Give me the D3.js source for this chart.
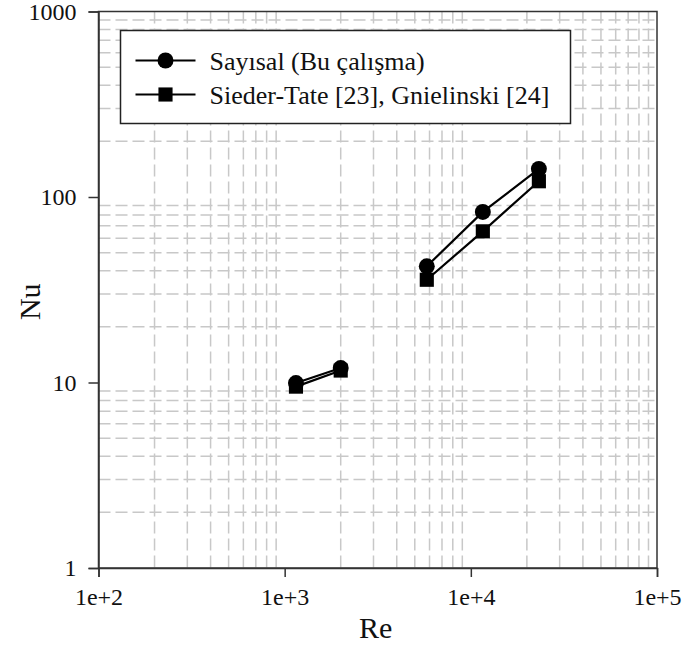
<!DOCTYPE html>
<html>
<head>
<meta charset="utf-8">
<script src="https://cdn.jsdelivr.net/npm/d3@7"></script>
<style>
	body { margin: 0; background: white; }
	svg text { font-family: "Liberation Serif", "Times New Roman", serif; fill: #111; }
</style>
</head>
<body>
<div id="chart"></div>
<script>
// data (null = break in the line)
var re = [1150, 2000, null, 5800, 11600, 23200];
var nuSayisal = [9.93, 11.96, null, 42.3, 83.1, 141.8];
var nuSieder = [9.5, 11.6, null, 35.8, 65.3, 121.6];
var seriesNames = ["Sayısal (Bu çalışma)", "Sieder-Tate [23], Gnielinski [24]"];
var xTicks = [1e2, 1e3, 1e4, 1e5];
var xTickLabels = ["1e+2", "1e+3", "1e+4", "1e+5"];
var yTicks = [1, 10, 100, 1000];
var yTickLabels = ["1", "10", "100", "1000"];

var width = 683
var height = 648
var margin = { left: 98.5, top: 11.5, right: 26, bottom: 80 }
var w = 657 - margin.left
var h = 568 - margin.top

var svg = d3.select("#chart")
	.append("svg")
	.attr("width", width)
	.attr("height", height);

var x = d3.scaleLog().domain([1e2, 1e5]).range([0, w]);
var y = d3.scaleLog().domain([1, 1000]).range([h, 0]);

var g = svg.append("g")
	.attr("transform", "translate(" + margin.left + "," + margin.top + ")");

// minor grid (2..9 in each decade)
var minorX = [], minorY = [];
[1e2, 1e3, 1e4].forEach(function (d) {
	for (var k = 2; k <= 9; k++) minorX.push(d * k);
});
[1, 10, 100].forEach(function (d) {
	for (var k = 2; k <= 9; k++) minorY.push(d * k);
});

g.append("g").selectAll("line")
	.data(minorX)
	.enter().append("line")
	.attr("x1", function (d) { return x(d) })
	.attr("x2", function (d) { return x(d) })
	.attr("y1", 0)
	.attr("y2", h)
	.style("stroke", "#c8c8c8")
	.style("stroke-width", 1.5)
	.style("stroke-dasharray", "12,5");

g.append("g").selectAll("line")
	.data(minorY)
	.enter().append("line")
	.attr("y1", function (d) { return y(d) })
	.attr("y2", function (d) { return y(d) })
	.attr("x1", 0)
	.attr("x2", w)
	.style("stroke", "#c8c8c8")
	.style("stroke-width", 1.5)
	.style("stroke-dasharray", "12,5");

// frame
g.append("rect")
	.attr("width", w)
	.attr("height", h)
	.style("fill", "none")
	.style("stroke", "#333")
	.style("stroke-width", 1.5);

// axes
var xAxis = g.append("g")
	.attr("transform", "translate(0," + h + ")")
	.call(d3.axisBottom(x).tickValues(xTicks).tickSize(9).tickPadding(11)
		.tickFormat(function (d, i) { return xTickLabels[i] }));

var yAxis = g.append("g")
	.call(d3.axisLeft(y).tickValues(yTicks).tickSize(10).tickPadding(12)
		.tickFormat(function (d, i) { return yTickLabels[i] }));

[xAxis, yAxis].forEach(function (a) {
	a.select(".domain").style("stroke", "#333").style("stroke-width", 1.5);
	a.selectAll(".tick line").style("stroke", "#333").style("stroke-width", 1.5);
	a.selectAll("text")
		.style("font-family", '"Liberation Serif", "Times New Roman", serif')
		.style("font-size", "24px")
		.style("fill", "#111");
});

// axis titles
svg.append("text")
	.attr("x", margin.left + w / 2 - 2)
	.attr("y", 638)
	.attr("text-anchor", "middle")
	.style("font-size", "30px")
	.text("Re");

svg.append("text")
	.attr("transform", "translate(40," + (margin.top + h / 2 + 12) + ") rotate(-90)")
	.attr("text-anchor", "middle")
	.style("font-size", "30px")
	.text("Nu");

// series
var idx = d3.range(re.length);
var series = [
	{ name: seriesNames[0], vals: nuSayisal, shape: d3.symbolCircle, size: 200 },
	{ name: seriesNames[1], vals: nuSieder, shape: d3.symbolSquare, size: 200 }
];

series.forEach(function (s) {
	var line = d3.line()
		.defined(function (i) { return re[i] != null && s.vals[i] != null })
		.x(function (i) { return x(re[i]) })
		.y(function (i) { return y(s.vals[i]) });

	g.append("path")
		.datum(idx)
		.attr("fill", "none")
		.attr("stroke", "black")
		.attr("stroke-width", 2.2)
		.attr("d", line);
});

series.forEach(function (s) {
	g.append("g").selectAll("path")
		.data(idx.filter(function (i) { return re[i] != null }))
		.enter().append("path")
		.attr("transform", function (i) { return "translate(" + x(re[i]) + "," + y(s.vals[i]) + ")" })
		.attr("d", d3.symbol().type(s.shape).size(s.size)())
		.attr("fill", "black");
});

// legend
var legend = svg.append("g")
	.attr("transform", "translate(120.5,30.5)");

legend.append("rect")
	.attr("width", 450)
	.attr("height", 93)
	.style("fill", "white")
	.style("stroke", "#222")
	.style("stroke-width", 1.5);

series.forEach(function (s, i) {
	var ly = 30 + i * 34;
	legend.append("line")
		.attr("x1", 15).attr("x2", 75)
		.attr("y1", ly).attr("y2", ly)
		.attr("stroke", "black")
		.attr("stroke-width", 2);
	legend.append("path")
		.attr("transform", "translate(45," + ly + ")")
		.attr("d", d3.symbol().type(s.shape).size(s.size)())
		.attr("fill", "black");
	legend.append("text")
		.attr("x", 89)
		.attr("y", ly + 9)
		.style("font-size", "26px")
		.text(s.name);
});
</script>
</body>
</html>
